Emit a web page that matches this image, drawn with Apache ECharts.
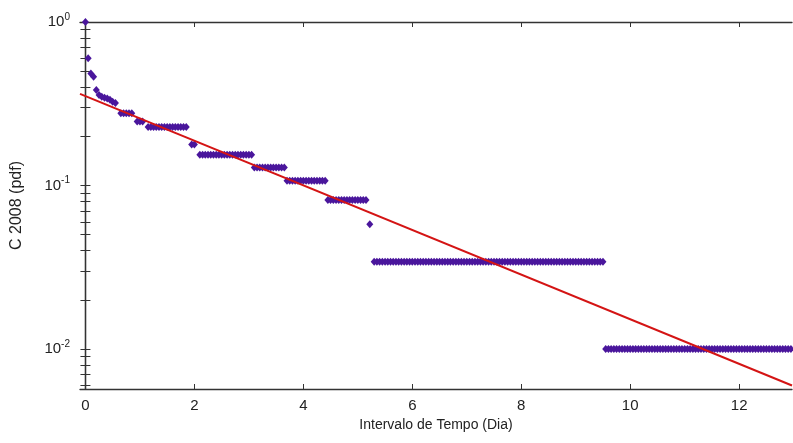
<!DOCTYPE html>
<html><head><meta charset="utf-8">
<script src="https://cdn.jsdelivr.net/npm/echarts@6/dist/echarts.min.js"></script>
<style>html,body{margin:0;padding:0;background:#fff}#c{width:793px;height:443px}</style>
</head><body><div id="c"></div>
<script>
// axis ticks
const xTicks = [0, 2, 4, 6, 8, 10, 12];
const yMajorTicks = [0.01, 0.1, 1];
const yMinorTicks = [0.006, 0.007, 0.008, 0.009,
  0.02, 0.03, 0.04, 0.05, 0.06, 0.07, 0.08, 0.09,
  0.2, 0.3, 0.4, 0.5, 0.6, 0.7, 0.8, 0.9];

// individual (non-plateau) points: interval (days), pdf
const pointX = [0, 0.05, 0.10, 0.15, 0.20, 0.25, 0.30, 0.35, 0.40, 0.45, 0.50, 0.55, 5.22];
const pointY = [1.0, 0.60, 0.485, 0.463, 0.384, 0.358, 0.349, 0.344, 0.341, 0.335, 0.325, 0.32, 0.058];

// plateaus: points every 0.05 day from start to end at a constant pdf value
const runStart = [0.65, 0.95, 1.15, 1.95, 2.10, 3.10, 3.70, 4.45, 5.30, 9.55];
const runEnd   = [0.85, 1.05, 1.85, 2.00, 3.05, 3.65, 4.40, 5.15, 9.50, 13.05];
const runValue = [0.277, 0.246, 0.228, 0.178, 0.154, 0.129, 0.107, 0.0815, 0.0342, 0.01];
const runStep = 0.05;

// exponential fit line endpoints
const fitX = [-0.1, 12.97];
const fitY = [0.363, 0.00598];

const scatterData = [];
pointX.forEach((x, i) => scatterData.push([x, pointY[i]]));
runStart.forEach((s, i) => {
  const n = Math.round((runEnd[i] - s) / runStep);
  for (let k = 0; k <= n; k++) scatterData.push([+(s + k * runStep).toFixed(3), runValue[i]]);
});
const fitData = fitX.map((x, i) => [x, fitY[i]]);

const FONT = "'Liberation Sans', Arial, sans-serif";
const AX = '#333333';
const xMin = -0.1, xMax = 12.97, yMin = 0.00569, yMax = 1;

const chart = echarts.init(document.getElementById('c'), null, {renderer: 'canvas'});
chart.setOption({
  animation: false,
  backgroundColor: '#ffffff',
  grid: {left: 80, right: 1, top: 22, bottom: 54},
  xAxis: [{
    type: 'value', min: xMin, max: xMax, position: 'bottom',
    name: 'Intervalo de Tempo (Dia)', nameLocation: 'middle', nameGap: 28,
    nameTextStyle: {fontFamily: FONT, fontSize: 14, color: '#222'},
    axisLine: {show: true, lineStyle: {color: AX, width: 1.3}},
    axisTick: {show: true, inside: true, length: 5, lineStyle: {color: AX}, customValues: xTicks},
    axisLabel: {customValues: xTicks, margin: 9, fontFamily: FONT, fontSize: 15, color: '#222'},
    splitLine: {show: false}
  }, {
    type: 'value', min: xMin, max: xMax, position: 'top',
    axisLine: {show: true, lineStyle: {color: AX, width: 1.3}},
    axisTick: {show: true, inside: true, length: 5, lineStyle: {color: AX}, customValues: xTicks},
    axisLabel: {show: false},
    splitLine: {show: false}
  }],
  yAxis: [{
    type: 'log', min: yMin, max: yMax, position: 'left',
    name: 'C 2008 (pdf)', nameLocation: 'middle', nameGap: 55, nameRotate: 90,
    nameTextStyle: {fontFamily: FONT, fontSize: 16, color: '#222'},
    axisLine: {show: true, lineStyle: {color: AX, width: 1.3}},
    axisTick: {show: true, inside: true, length: 5, lineStyle: {color: AX}, customValues: yMajorTicks.concat(yMinorTicks)},
    axisLabel: {
      customValues: yMajorTicks, margin: 10,
      formatter: v => '{b|10}{e|' + Math.round(Math.log10(v)) + '}',
      rich: {
        b: {fontFamily: FONT, fontSize: 15, color: '#222'},
        e: {fontFamily: FONT, fontSize: 10, color: '#222', padding: [0, 0, 10, 0]}
      }
    },
    splitLine: {show: false}
  }, {
    type: 'log', min: yMin, max: yMax, position: 'right',
    axisLine: {show: true, lineStyle: {color: AX, width: 1.3}},
    axisTick: {show: true, inside: true, length: 5, lineStyle: {color: AX}, customValues: yMajorTicks.concat(yMinorTicks)},
    axisLabel: {show: false},
    splitLine: {show: false}
  }],
  series: [{
    type: 'scatter', xAxisIndex: 0, yAxisIndex: 0,
    data: scatterData, symbol: 'diamond', symbolSize: [7, 8],
    itemStyle: {color: '#4a169c', opacity: 1}
  }, {
    type: 'line', xAxisIndex: 0, yAxisIndex: 0,
    data: fitData, symbol: 'none',
    lineStyle: {color: '#d41414', width: 2}
  }]
});
</script></body></html>
